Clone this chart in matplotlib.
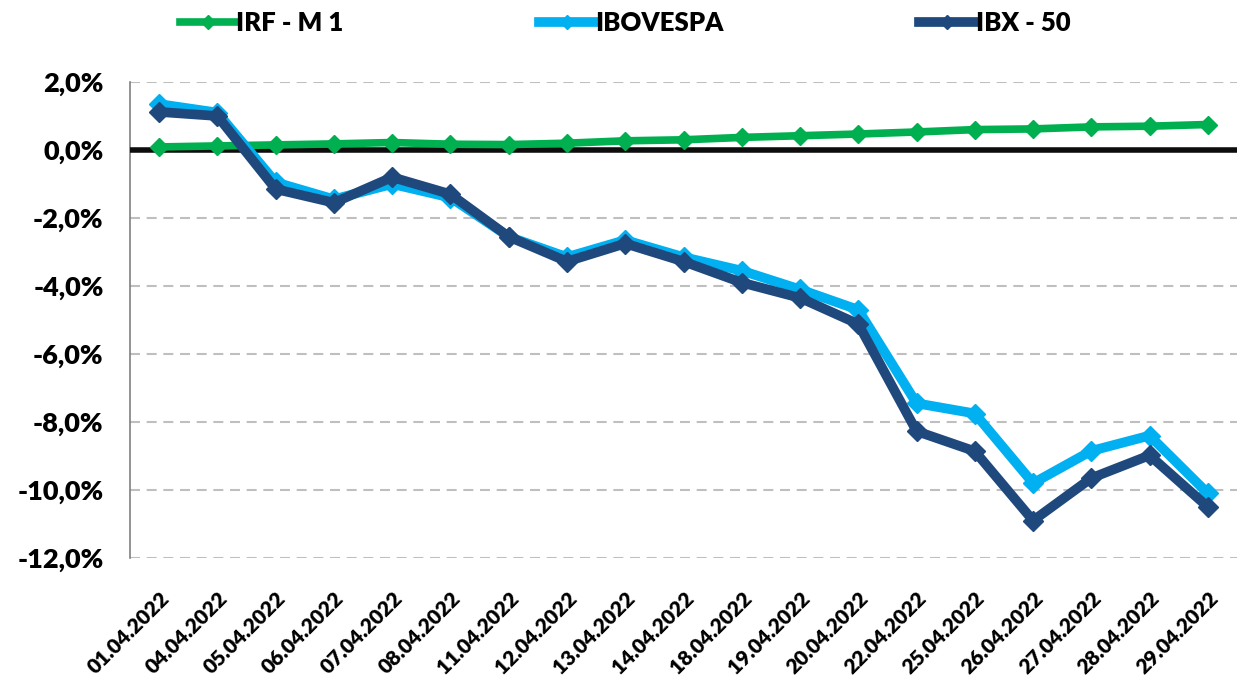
import numpy as np
import matplotlib
matplotlib.use('Agg')
import matplotlib.pyplot as plt
from matplotlib.ticker import FuncFormatter

plt.rcParams['font.family'] = ['Lato', 'DejaVu Sans']
plt.rcParams['font.weight'] = 'heavy'

# dates (category axis) and daily cumulative returns in %
dates = ['01.04.2022', '04.04.2022', '05.04.2022', '06.04.2022', '07.04.2022',
         '08.04.2022', '11.04.2022', '12.04.2022', '13.04.2022', '14.04.2022',
         '18.04.2022', '19.04.2022', '20.04.2022', '22.04.2022', '25.04.2022',
         '26.04.2022', '27.04.2022', '28.04.2022', '29.04.2022']
irf_m1 = [0.09, 0.12, 0.15, 0.18, 0.22, 0.17, 0.16, 0.20, 0.27, 0.30,
          0.37, 0.42, 0.47, 0.53, 0.60, 0.62, 0.68, 0.70, 0.75]
ibovespa = [1.35, 1.10, -0.95, -1.45, -1.00, -1.40, -2.55, -3.15, -2.65, -3.15,
            -3.55, -4.10, -4.70, -7.45, -7.75, -9.80, -8.85, -8.40, -10.10]
ibx50 = [1.12, 1.00, -1.15, -1.55, -0.80, -1.30, -2.55, -3.28, -2.75, -3.28,
         -3.90, -4.35, -5.12, -8.27, -8.86, -10.90, -9.65, -8.98, -10.50]
labels = ['IRF - M 1', 'IBOVESPA', 'IBX - 50']
colors = ['#00B050', '#00B0F0', '#1F497D']

fig = plt.figure(figsize=(12.38, 6.75), dpi=100)
ax = fig.add_axes([130/1238, 1-558/675, 1107/1238, (558-82)/675])

x = np.arange(len(dates))
ax.plot(x, irf_m1, color=colors[0], lw=5.5, marker='D', ms=9.5, label=labels[0], zorder=4)
ax.plot(x, ibovespa, color=colors[1], lw=7, marker='D', ms=10, label=labels[1], zorder=5)
ax.plot(x, ibx50, color=colors[2], lw=7, marker='D', ms=10, label=labels[2], zorder=6)

ax.axhline(0, color='#0d0d0d', lw=4, zorder=3)

ax.set_xlim(-0.5, len(dates) - 0.5)
ax.set_ylim(-12, 2)
ax.set_yticks(np.arange(-12, 2.1, 2))
ax.yaxis.set_major_formatter(FuncFormatter(lambda v, p: f'{v:.1f}%'.replace('.', ',')))
ax.grid(axis='y', color='#BFBFBF', lw=1.5, linestyle=(0, (4.8, 3.2)), zorder=1)
ax.set_axisbelow(True)

for s in ['top', 'right', 'bottom']:
    ax.spines[s].set_visible(False)
ax.spines['left'].set_color('#808080')
ax.spines['left'].set_linewidth(1.2)

ax.set_xticks(x)
ax.set_xticklabels(dates, rotation=45, ha='right', va='top', rotation_mode='anchor',
                   fontsize=15, fontweight='heavy')
ax.tick_params(axis='x', length=0, pad=22)
ax.tick_params(axis='y', length=0, pad=19, labelsize=19.5)
for t in ax.get_yticklabels():
    t.set_fontweight('heavy')

leg = fig.legend(loc='center', bbox_to_anchor=(625/1238, 1-23/675), ncol=3, frameon=False,
                 handlelength=2.2, handletextpad=0.0, columnspacing=7.6, markerscale=0.7,
                 prop={'weight': 'heavy', 'size': 18.5})

fig.savefig('out.png', dpi=100)
